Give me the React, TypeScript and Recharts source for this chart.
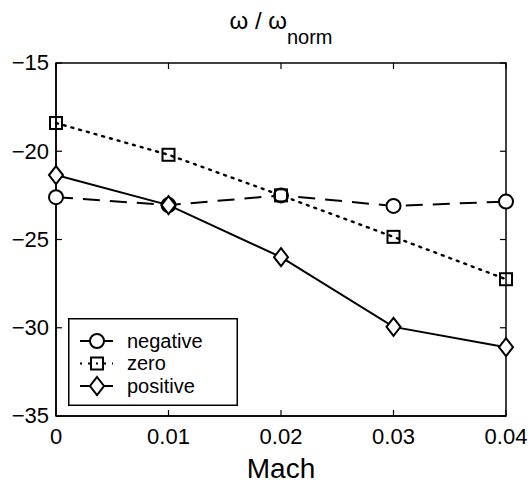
import React from 'react';
import { LineChart, Line, XAxis, YAxis, Legend, ReferenceArea } from 'recharts';

const machValues = [0, 0.01, 0.02, 0.03, 0.04];
const negativeValues = [-22.6, -23.05, -22.5, -23.1, -22.85];
const zeroValues = [-18.4, -20.2, -22.5, -24.85, -27.25];
const positiveValues = [-21.35, -23.05, -26.0, -29.95, -31.1];
const xTicks = [0, 0.01, 0.02, 0.03, 0.04];
const yTicks = [-35, -30, -25, -20, -15];
const seriesNames = ['negative', 'zero', 'positive'];

const data = machValues.map((m, i) => ({
  mach: m,
  negative: negativeValues[i],
  zero: zeroValues[i],
  positive: positiveValues[i],
}));

const FONT = '"Liberation Sans", Arial, Helvetica, sans-serif';
const PLOT_W = 450;
const PLOT_H = 353;
const TICK = 6;

const fmt = (v: number) => (v < 0 ? '\u2212' + String(Math.abs(v)) : String(v));

const XTick = (props: any) => {
  const { x, y, payload } = props;
  return (
    <g>
      <line x1={x} x2={x} y1={y} y2={y - TICK} stroke="#000" strokeWidth={1.2} />
      <line x1={x} x2={x} y1={y - PLOT_H} y2={y - PLOT_H + TICK} stroke="#000" strokeWidth={1.2} />
      <text x={x} y={y + 28} textAnchor="middle" fontSize={22} fontFamily={FONT} fill="#000">
        {fmt(payload.value)}
      </text>
    </g>
  );
};

const YTick = (props: any) => {
  const { x, y, payload } = props;
  return (
    <g>
      <line x1={x} x2={x + TICK} y1={y} y2={y} stroke="#000" strokeWidth={1.2} />
      <line x1={x + PLOT_W} x2={x + PLOT_W - TICK} y1={y} y2={y} stroke="#000" strokeWidth={1.2} />
      <text x={x - 7} y={y} dy="0.33em" textAnchor="end" fontSize={22} fontFamily={FONT} fill="#000">
        {fmt(payload.value)}
      </text>
    </g>
  );
};

const CircleMark = ({ cx, cy }: { cx: number; cy: number }) => (
  <circle cx={cx} cy={cy} r={7} fill="#fff" stroke="#000" strokeWidth={2} />
);
const SquareMark = ({ cx, cy }: { cx: number; cy: number }) => (
  <rect x={cx - 6} y={cy - 6} width={12} height={12} fill="none" stroke="#000" strokeWidth={2} />
);
const DiamondMark = ({ cx, cy }: { cx: number; cy: number }) => (
  <polygon
    points={`${cx},${cy - 9} ${cx + 7},${cy} ${cx},${cy + 9} ${cx - 7},${cy}`}
    fill="#fff"
    stroke="#000"
    strokeWidth={2}
  />
);

const markers = [CircleMark, SquareMark, DiamondMark];
const dashes = ['17 10', '2 6', undefined];

const LegendBox = () => (
  <svg width={170} height={88} style={{ display: 'block' }}>
    <rect x={0.75} y={0.75} width={168.5} height={86.5} fill="#fff" stroke="#000" strokeWidth={1.5} />
    {seriesNames.map((name, i) => {
      const cy = 23 + i * 22.5;
      const M = markers[i];
      return (
        <g key={name}>
          <line x1={12} x2={45} y1={cy} y2={cy} stroke="#000" strokeWidth={2} strokeDasharray={i === 1 ? '2 6' : undefined} />
          <M cx={29} cy={cy} />
          <text x={59} y={cy} dy="0.33em" fontSize={20} fontFamily={FONT} fill="#000">
            {name}
          </text>
        </g>
      );
    })}
  </svg>
);

export default function App() {
  return (
    <div style={{ position: 'absolute', left: 0, top: 0, width: 531, height: 491, background: '#fff' }}>
      <LineChart width={531} height={491} data={data} margin={{ top: 63, right: 25, bottom: 0, left: 0 }}>
        <XAxis
          dataKey="mach"
          type="number"
          domain={[0, 0.04]}
          ticks={xTicks}
          height={75}
          tickSize={0}
          tickMargin={0}
          tickLine={false}
          axisLine={{ stroke: '#000', strokeWidth: 1.5 }}
          tick={<XTick />}
          interval={0}
        />
        <YAxis
          type="number"
          domain={[-35, -15]}
          ticks={yTicks}
          width={56}
          tickSize={0}
          tickMargin={0}
          tickLine={false}
          axisLine={{ stroke: '#000', strokeWidth: 1.5 }}
          tick={<YTick />}
          interval={0}
          allowDataOverflow
        />
        <ReferenceArea x1={0} x2={0.04} y1={-35} y2={-15} fill="none" stroke="#000" strokeWidth={1.5} />
        {seriesNames.map((name, i) => {
          const M = markers[i];
          return (
            <Line
              key={name}
              dataKey={name}
              type="linear"
              stroke="#000"
              strokeWidth={i === 1 ? 2.4 : 2}
              strokeDasharray={dashes[i]}
              strokeLinecap={i === 1 ? 'round' : 'butt'}
              dot={(p: any) => <M key={`${name}-${p.index}`} cx={p.cx} cy={p.cy} />}
              isAnimationActive={false}
            />
          );
        })}
        <Legend
          layout="horizontal"
          verticalAlign="middle"
          align="center"
          content={() => <LegendBox />}
          wrapperStyle={{ position: 'absolute', left: 68, top: 318, width: 170, height: 88, bottom: 'auto', right: 'auto' }}
        />
      </LineChart>
      <svg
        width={531}
        height={491}
        style={{ position: 'absolute', left: 0, top: 0, pointerEvents: 'none' }}
      >
        <text x={281} y={29} textAnchor="middle" fontSize={24} fontFamily={FONT} fill="#000">
          ω / ω
          <tspan fontSize={20} dy={15}>norm</tspan>
        </text>
        <text x={281} y={478} textAnchor="middle" fontSize={28} fontFamily={FONT} fill="#000">
          Mach
        </text>
      </svg>
    </div>
  );
}
